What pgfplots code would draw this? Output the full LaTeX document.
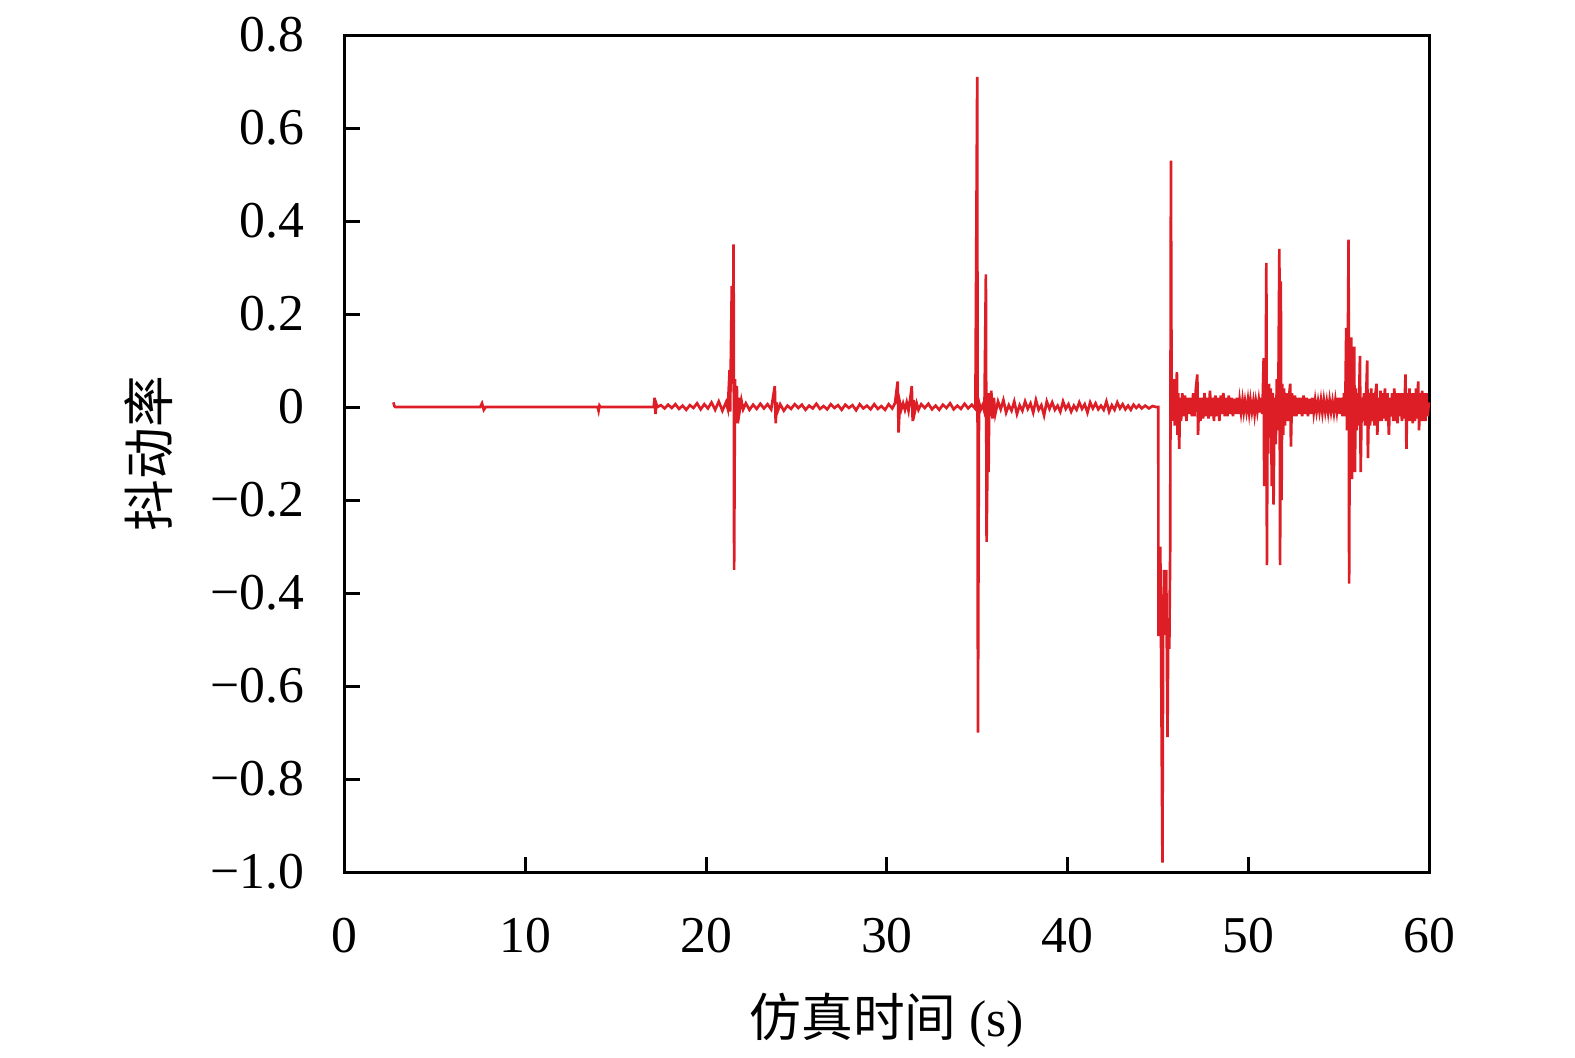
\documentclass[border=0pt]{standalone}
\usepackage{pgfplots}
\pgfplotsset{compat=1.18}
\usepackage{fontspec}
\setmainfont{Liberation Serif}
\newfontfamily\cjk{Noto Sans CJK SC}
\definecolor{sig}{RGB}{222,30,38}
\pgfplotstableread{
x y
2.70 0.010
2.75 0.002
2.80 0
7.50 0
7.60 0.008
7.70 -0.006
7.80 0
14.00 0
14.05 -0.008
14.10 0.003
14.15 0
17.10 0
17.15 0.02
17.20 -0.015
17.25 0.006
17.30 0
17.5 0.004
17.7 -0.003
17.9 0.005
18.1 -0.002
18.3 0.006
18.5 -0.004
18.7 0.003
18.9 -0.006
19.1 0.004
19.3 -0.002
19.5 0.008
19.7 -0.005
19.9 0.006
20.1 -0.003
20.3 0.010
20.5 -0.006
20.7 0.012
20.9 -0.008
21.1 0.010
21.2 -0.004
21.30 0.08
21.33 -0.01
21.42 0.26
21.47 0.05
21.52 0.35
21.55 -0.35
21.60 0.06
21.65 -0.03
21.70 0.045
21.75 -0.035
21.80 0.02
21.85 -0.01
21.95 0.015
22.05 -0.005
22.2 0.008
22.4 -0.006
22.6 0.005
22.8 -0.004
23.0 0.007
23.2 -0.003
23.4 0.006
23.6 -0.005
23.80 0.045
23.85 -0.035
23.90 0.01
23.95 -0.01
24.1 0.006
24.3 -0.008
24.5 0.003
24.7 -0.004
24.9 0.006
25.1 -0.002
25.3 0.005
25.5 -0.006
25.7 0.003
25.9 -0.003
26.1 0.007
26.3 -0.004
26.5 0.002
26.7 -0.005
26.9 0.006
27.1 -0.002
27.3 0.004
27.5 -0.006
27.7 0.005
27.9 -0.002
28.1 0.004
28.3 -0.007
28.5 0.006
28.7 -0.003
28.9 0.003
29.1 -0.005
29.3 0.006
29.5 -0.004
29.7 0.002
29.9 -0.006
30.1 0.006
30.3 -0.003
30.45 0.008
30.60 0.055
30.65 -0.055
30.72 0.01
30.8 -0.005
30.9 0.008
31.0 -0.006
31.1 0.01
31.2 -0.008
31.30 0.02
31.38 0.045
31.43 -0.03
31.48 0.015
31.55 -0.01
31.65 0.008
31.75 -0.006
31.9 0.006
32.1 -0.002
32.3 0.007
32.5 -0.005
32.7 0.003
32.9 -0.006
33.1 0.005
33.3 -0.002
33.5 0.008
33.7 -0.005
33.9 0.003
34.1 -0.004
34.3 0.007
34.5 -0.003
34.7 0.005
34.9 -0.004
35.00 0.71
35.04 -0.70
35.10 0.01
35.2 -0.005
35.3 0.004
35.40 -0.01
35.48 0.285
35.52 -0.29
35.56 -0.15
35.60 -0.05
35.63 -0.14
35.67 0.03
35.72 -0.02
35.78 0.035
35.85 -0.025
35.92 0.02
36.0 -0.015
36.15 0.012
36.3 -0.005
36.45 0.015
36.6 -0.012
36.75 0.004
36.9 -0.008
37.05 0.012
37.2 -0.015
37.35 0.004
37.5 -0.008
37.65 0.012
37.8 -0.004
37.95 0.008
38.1 -0.012
38.25 0.015
38.4 -0.006
38.55 0.004
38.7 -0.018
38.85 0.012
39.0 -0.004
39.15 0.01
39.3 -0.006
39.45 0.003
39.6 -0.01
39.75 0.012
39.9 -0.004
40.05 0.006
40.2 -0.01
40.35 0.003
40.5 -0.006
40.65 0.01
40.8 -0.004
40.95 0.006
41.1 -0.012
41.25 0.01
41.4 -0.003
41.55 0.008
41.7 -0.005
41.85 0.003
42.0 -0.006
42.15 0.012
42.3 -0.01
42.45 0.004
42.6 -0.006
42.75 0.01
42.9 -0.003
43.05 0.006
43.2 -0.005
43.35 0.003
43.5 -0.006
43.65 0.005
43.8 -0.002
43.95 0.004
44.1 -0.003
44.3 0.003
44.5 -0.003
44.7 0.002
44.9 0
45.02 0
45.03 -0.49
45.10 -0.49
45.13 -0.30
45.17 -0.49
45.25 -0.98
45.29 -0.49
45.34 -0.35
45.39 -0.49
45.46 -0.35
45.53 -0.71
45.57 -0.49
45.63 -0.52
45.68 -0.30
45.72 0.53
45.76 -0.02
45.80 0.05
45.84 -0.03
45.88 0.06
45.93 -0.04
46.0 0.02
46.05 0.075
46.08 -0.06
46.12 0.03
46.18 -0.09
46.22 0.02
46.28 -0.03
46.35 0.03
46.42 -0.02
46.5 0.025
46.58 -0.03
46.65 0.02
46.72 -0.015
46.8 0.02
46.88 -0.02
46.95 0.03
47.02 -0.02
47.1 0.04
47.18 0.07
47.22 -0.06
47.28 0.02
47.35 -0.03
47.42 0.02
47.5 -0.025
47.58 0.03
47.65 -0.02
47.72 0.02
47.8 -0.025
47.88 0.035
47.95 -0.02
48.02 0.02
48.1 -0.03
48.18 0.025
48.25 -0.02
48.32 0.02
48.4 -0.03
48.48 0.025
48.55 -0.015
48.62 0.03
48.7 -0.02
48.78 0.02
48.85 -0.02
48.92 0.025
49.0 -0.015
49.08 0.02
49.15 -0.02
49.22 0.018
49.3 -0.015
49.38 0.02
49.45 -0.015
49.52 0.015
49.6 -0.012
49.68 0.015
49.75 -0.01
49.82 0.012
49.9 -0.01
49.98 0.015
50.05 -0.012
50.12 0.015
50.2 -0.01
50.28 0.012
50.35 -0.015
50.42 0.012
50.5 -0.01
50.58 0.015
50.65 -0.012
50.72 0.02
50.78 -0.015
50.85 0.105
50.88 -0.17
50.92 0.06
50.95 -0.05
51.0 0.31
51.03 -0.34
51.07 0.02
51.1 -0.10
51.15 0.05
51.2 -0.05
51.25 0.04
51.3 -0.17
51.35 0.03
51.4 -0.21
51.45 0.02
51.52 -0.08
51.58 0.06
51.65 -0.05
51.72 0.34
51.76 -0.34
51.8 0.27
51.84 -0.20
51.88 0.05
51.93 -0.06
51.98 0.04
52.03 -0.04
52.1 0.03
52.18 -0.03
52.25 0.02
52.32 0.05
52.36 -0.085
52.42 0.03
52.5 -0.02
52.58 0.025
52.66 -0.02
52.74 0.02
52.82 -0.015
52.9 0.02
52.98 -0.02
53.06 0.025
53.14 -0.015
53.22 0.02
53.3 -0.02
53.38 0.018
53.46 -0.015
53.54 0.02
53.62 -0.012
53.7 0.015
53.78 -0.01
53.86 0.012
53.94 -0.01
54.02 0.015
54.1 -0.012
54.18 0.015
54.26 -0.01
54.34 0.012
54.42 -0.012
54.5 0.015
54.58 -0.01
54.66 0.012
54.74 -0.012
54.82 0.015
54.9 -0.01
54.98 0.02
55.06 -0.015
55.14 0.02
55.22 -0.02
55.3 0.03
55.36 -0.02
55.42 0.17
55.46 -0.05
55.5 0.08
55.55 0.36
55.58 -0.38
55.62 0.05
55.66 -0.03
55.7 0.15
55.74 -0.155
55.78 0.08
55.82 -0.07
55.86 0.13
55.9 -0.14
55.95 0.04
56.0 -0.05
56.05 0.03
56.1 -0.04
56.18 0.11
56.22 -0.14
56.28 0.02
56.34 -0.03
56.4 0.03
56.46 -0.04
56.52 0.02
56.58 0.10
56.62 -0.11
56.68 0.03
56.74 -0.04
56.8 0.04
56.86 -0.03
56.92 0.03
56.98 -0.04
57.04 0.03
57.1 0.05
57.14 -0.06
57.2 0.02
57.26 -0.03
57.32 0.035
57.38 -0.03
57.44 0.03
57.5 -0.025
57.56 0.04
57.62 -0.03
57.7 0.03
57.78 -0.06
57.84 0.02
57.9 -0.02
57.96 0.03
58.02 -0.03
58.08 0.04
58.14 -0.03
58.2 0.03
58.26 -0.035
58.32 0.03
58.38 -0.02
58.44 0.03
58.5 -0.03
58.56 0.03
58.62 -0.025
58.7 0.07
58.75 -0.09
58.8 0.03
58.86 -0.03
58.92 0.04
58.98 -0.03
59.04 0.03
59.1 -0.035
59.16 0.03
59.22 -0.03
59.28 0.04
59.34 -0.025
59.4 0.055
59.45 -0.05
59.5 0.03
59.56 -0.03
59.62 0.035
59.68 -0.03
59.74 0.03
59.8 -0.03
59.86 0.03
59.92 -0.02
60.0 0.01
}\sig
\begin{document}
\begin{tikzpicture}
\begin{axis}[
  at={(0,0)}, anchor=south west,
  scale only axis, width=325.3pt, height=251.1pt,
  xmin=0, xmax=60, ymin=-1.0, ymax=0.8,
  axis line style={line width=0.9pt},
  tick style={line width=0.9pt, black},
  major tick length=4.5pt,
  tick align=inside,
  xtick pos=bottom, ytick pos=left,
  xtick={0,10,...,60},
  xticklabels={0,10,20,30,40,50,60},
  ytick={-1,-0.8,-0.6,-0.4,-0.2,0,0.2,0.4,0.6,0.8},
  yticklabels={−1.0,−0.8,−0.6,−0.4,−0.2,0,0.2,0.4,0.6,0.8},
  ticklabel style={font=\fontsize{15.5}{18}\selectfont},
  xticklabel style={yshift=-10.2pt},
  yticklabel style={xshift=-8.5pt},
  xlabel={{\cjk 仿真时间} (s)},
  ylabel={\cjk 抖动率},
  label style={font=\fontsize{15.5}{18}\selectfont},
  xlabel style={at={(axis description cs:0.5,0)}, anchor=center, yshift=-44.5pt},
  ylabel style={at={(axis description cs:-0.181,0.5)}, anchor=center},
  clip=false,
]
\addplot[sig, line width=0.8pt, line join=miter] table[x=x,y=y] {\sig};
\end{axis}
\pgfresetboundingbox
\path[use as bounding box] (-103.4pt,-55.5pt) rectangle (369.1pt,261.6pt);
\end{tikzpicture}
\end{document}
